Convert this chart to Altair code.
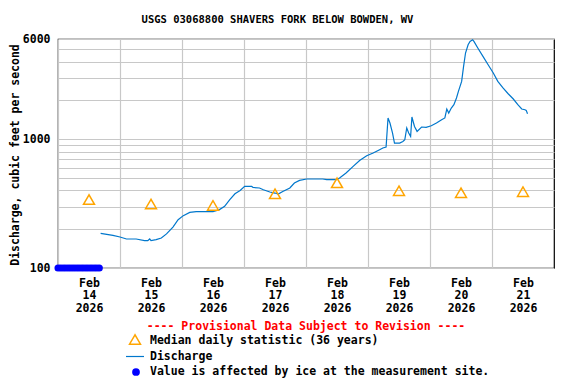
import altair as alt
import pandas as pd

FONT = "DejaVu Sans Mono"

title_text = "USGS 03068800 SHAVERS FORK BELOW BOWDEN, WV"
y_title = "Discharge, cubic feet per second"
provisional_text = "---- Provisional Data Subject to Revision ----"
legend_labels = [
    "Median daily statistic (36 years)",
    "Discharge",
    "Value is affected by ice at the measurement site.",
]

q_times = [
    "2026-02-14T16:30", "2026-02-14T21:15", "2026-02-15T00:00", "2026-02-15T02:30",
    "2026-02-15T06:15", "2026-02-15T09:30", "2026-02-15T10:45", "2026-02-15T11:30",
    "2026-02-15T12:00", "2026-02-15T14:00", "2026-02-15T16:00", "2026-02-15T18:00",
    "2026-02-15T20:30", "2026-02-15T22:30", "2026-02-16T00:30", "2026-02-16T03:00",
    "2026-02-16T05:30", "2026-02-16T12:00", "2026-02-16T14:30", "2026-02-16T16:30",
    "2026-02-16T18:30", "2026-02-16T20:30", "2026-02-16T22:30", "2026-02-17T00:15",
    "2026-02-17T03:00", "2026-02-17T03:30", "2026-02-17T06:00", "2026-02-17T07:30",
    "2026-02-17T10:00", "2026-02-17T12:00", "2026-02-17T13:15", "2026-02-17T15:00",
    "2026-02-17T17:45", "2026-02-17T19:30", "2026-02-17T21:30", "2026-02-18T00:15",
    "2026-02-18T06:30", "2026-02-18T08:00", "2026-02-18T11:45", "2026-02-18T13:00",
    "2026-02-18T15:30", "2026-02-18T18:15", "2026-02-18T20:45", "2026-02-18T23:30",
    "2026-02-19T02:00", "2026-02-19T04:30", "2026-02-19T05:45", "2026-02-19T07:00",
    "2026-02-19T07:45", "2026-02-19T08:30", "2026-02-19T09:30", "2026-02-19T10:15",
    "2026-02-19T12:15", "2026-02-19T13:30", "2026-02-19T14:15", "2026-02-19T15:00",
    "2026-02-19T15:45", "2026-02-19T16:30", "2026-02-19T17:00", "2026-02-19T18:00",
    "2026-02-19T19:00", "2026-02-19T20:45", "2026-02-19T22:30", "2026-02-20T00:30",
    "2026-02-20T02:30", "2026-02-20T04:30", "2026-02-20T05:45", "2026-02-20T06:30",
    "2026-02-20T07:15", "2026-02-20T08:15", "2026-02-20T09:15", "2026-02-20T10:15",
    "2026-02-20T11:00", "2026-02-20T12:15", "2026-02-20T13:00", "2026-02-20T13:45",
    "2026-02-20T14:45", "2026-02-20T15:30", "2026-02-20T16:30", "2026-02-20T17:00",
    "2026-02-20T18:30", "2026-02-20T20:30", "2026-02-20T22:30", "2026-02-21T00:30",
    "2026-02-21T02:15", "2026-02-21T04:15", "2026-02-21T06:15", "2026-02-21T08:15",
    "2026-02-21T10:00", "2026-02-21T11:30", "2026-02-21T12:45", "2026-02-21T13:15",
    "2026-02-21T13:45",
]
q_values = [
    186, 179, 174, 168,
    168, 163, 163, 168,
    163, 166, 171, 184,
    208, 237, 255, 270,
    274, 274, 284, 301,
    339, 377, 400, 430,
    430, 422, 418, 405,
    389, 382, 375, 393,
    418, 457, 479, 491,
    491, 485, 485, 500,
    547, 615, 684, 745,
    781, 829, 855, 870,
    1462, 1336, 1117, 934,
    934, 961, 991, 1222,
    1117, 1052, 1487, 1257,
    1150, 1244, 1235, 1273,
    1336, 1416, 1462, 1716,
    1596, 1747, 1853, 2088,
    2350, 2812, 3675, 4670,
    5418, 5745, 5920, 5745,
    5107, 4395, 3787, 3266,
    2812, 2500, 2255, 2052,
    1853, 1716, 1694, 1674,
    1578,
]

median_times = [
    "2026-02-14T12:00", "2026-02-15T12:00", "2026-02-16T12:00", "2026-02-17T12:00",
    "2026-02-18T12:00", "2026-02-19T12:00", "2026-02-20T12:00", "2026-02-21T12:00",
]
median_values = [340, 314, 306, 377, 459, 398, 384, 391]

ice_times = [
    "2026-02-14T00:00", "2026-02-14T01:00", "2026-02-14T02:00", "2026-02-14T03:00",
    "2026-02-14T04:00", "2026-02-14T05:00", "2026-02-14T06:00", "2026-02-14T07:00",
    "2026-02-14T08:00", "2026-02-14T09:00", "2026-02-14T10:00", "2026-02-14T11:00",
    "2026-02-14T12:00", "2026-02-14T13:00", "2026-02-14T14:00", "2026-02-14T15:00",
    "2026-02-14T16:00",
]
ice_values = [100] * len(ice_times)

y_grid_values = [100, 200, 300, 400, 500, 600, 700, 800, 900,
                 1000, 2000, 3000, 4000, 5000, 6000]
y_label_values = [100, 1000, 6000]
day_dates = [14, 15, 16, 17, 18, 19, 20, 21]

q_df = pd.DataFrame({"time": q_times, "value": q_values})
med_df = pd.DataFrame({"time": median_times, "value": median_values})
ice_df = pd.DataFrame({"time": ice_times, "value": ice_values})

x_enc = alt.X(
    "time:T",
    scale=alt.Scale(domain=[alt.DateTime(year=2026, month=2, date=14),
                            alt.DateTime(year=2026, month=2, date=22)]),
    axis=alt.Axis(
        values=[alt.DateTime(year=2026, month=2, date=d) for d in day_dates],
        grid=True, gridColor="#C8C8C8", gridWidth=1.2,
        ticks=False, domain=False, title=None,
        labelExpr="[timeFormat(datum.value, '%b'), timeFormat(datum.value, '%d'), timeFormat(datum.value, '%Y')]",
        labelOffset=31, labelPadding=9, labelFlush=False, labelBound=False,
        labelOverlap=False, labelAlign="center", labelBaseline="top",
        labelLineHeight=12.5,
        labelFont=FONT, labelFontSize=11.5, labelFontWeight="bold", labelColor="black",
    ),
)
y_enc = alt.Y(
    "value:Q",
    scale=alt.Scale(type="log", domain=[100, 6000], nice=False),
    axis=alt.Axis(
        values=y_grid_values,
        grid=True, gridColor="#C8C8C8", gridWidth=1.2,
        ticks=False, domain=False, title=None,
        labelExpr="indexof(" + str(y_label_values) + ", datum.value) >= 0 ? format(datum.value, 'd') : ''",
        labelPadding=8, labelOverlap=False,
        labelFont=FONT, labelFontSize=11.5, labelFontWeight="bold", labelColor="black",
    ),
)

line = alt.Chart(q_df).mark_line(color="#0077CC", strokeWidth=1.2).encode(x=x_enc, y=y_enc)
medians = alt.Chart(med_df).mark_point(
    shape="triangle-up", filled=False, color="#FFA500", size=120, strokeWidth=1.5, opacity=1
).encode(x=x_enc, y=y_enc)
ice = alt.Chart(ice_df).mark_circle(color="#0000FF", size=50, opacity=1).encode(x=x_enc, y=y_enc)


def text_layer(txt, x, y, color="black", size=11.5, align="left", angle=0):
    return alt.Chart(pd.DataFrame({"label": [txt]})).mark_text(
        font=FONT, fontSize=size, fontWeight="bold", color=color,
        align=align, baseline="middle", angle=angle
    ).encode(text="label:N", x=alt.value(x), y=alt.value(y))


title_layer = text_layer(title_text, 219.5, -19, size=10.5, align="center")
ytitle_layer = text_layer(y_title, -42, 116, align="center", angle=270)
prov_layer = text_layer(provisional_text, 248, 288, color="#FF0000", align="center")
leg1 = text_layer(legend_labels[0], 92, 301.5)
leg2 = text_layer(legend_labels[1], 92, 317.5)
leg3 = text_layer(legend_labels[2], 92, 333)

leg_df = pd.DataFrame({"k": [0]})
leg_tri = alt.Chart(leg_df).mark_point(
    shape="triangle-up", filled=False, color="#FFA500", size=120, strokeWidth=1.5, opacity=1
).encode(x=alt.value(77), y=alt.value(300.5))
leg_line = alt.Chart(leg_df).mark_rule(color="#0077CC", strokeWidth=1.2).encode(
    x=alt.value(68), x2=alt.value(86), y=alt.value(317.5))
leg_dot = alt.Chart(leg_df).mark_circle(color="#0000FF", size=60, opacity=1).encode(
    x=alt.value(78), y=alt.value(333))

chart = alt.layer(
    line, medians, ice, title_layer, ytitle_layer, prov_layer,
    leg_tri, leg1, leg_line, leg2, leg_dot, leg3
).properties(
    width=496, height=229,
    autosize=alt.AutoSizeParams(type="none"),
    padding={"left": 50, "top": 31, "right": 4, "bottom": 111},
).configure_view(stroke="black", strokeWidth=1.2)

chart.save("out.html", embed_options={"renderer": "svg", "actions": False})
